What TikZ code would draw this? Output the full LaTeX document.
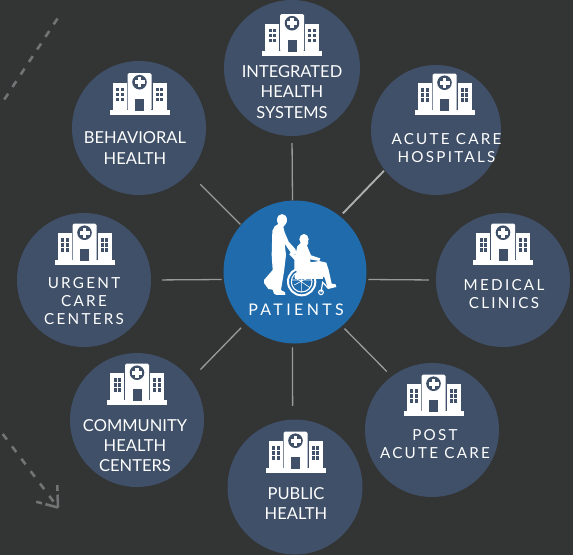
\documentclass[tikz,border=0pt]{standalone}
\usepackage{fontspec}
\setmainfont{Lato}
\definecolor{bgc}{HTML}{333434}
\definecolor{navy}{HTML}{3F5068}
\definecolor{pblue}{HTML}{1F6BAC}
\definecolor{linec}{HTML}{9A9A9A}
\definecolor{dashc}{HTML}{727374}
\newcommand{\plainlab}{\fontsize{16.5}{20.2}\selectfont}
\newcommand{\widelab}{\fontsize{15.2}{18}\selectfont\addfontfeature{LetterSpace=15}}
\tikzset{
  hub/.style={circle,fill=navy,draw=none,inner sep=0pt,minimum size=#1},
  lab/.style={text=white,align=center,font=\plainlab,inner sep=0pt},
  widelabel/.style={text=white,align=center,font=\widelab,inner sep=0pt},
  conn/.style={draw=linec,line width=1.3pt},
  dashl/.style={draw=dashc,line width=2.6pt,dash pattern=on 7pt off 8pt},
  pics/hosp/.style={code={
    \fill[white] (-30,-4.7) rectangle (30,0);
    \fill[white] (-27,-32) rectangle (-13,-4);
    \fill[white] (13,-32) rectangle (27,-4);
    \fill[white,rounded corners=1.5pt] (-12,-4) -- (-12,-41.5) -- (12,-41.5) -- (12,-4) -- cycle;
    \fill[navy] (-4.5,-4) rectangle (4.5,-15.7);
    \fill[navy] (0,-32.3) circle (7.3);
    \fill[white] (-1.8,-37.3) rectangle (1.8,-27.3);
    \fill[white] (-5,-34.1) rectangle (5,-30.5);
    \foreach \xx in {-23.5,-19,16,20.5}
      \foreach \yy in {-26.7,-21.7,-16.7}
        \fill[navy] (\xx,\yy) rectangle ++(3,3.2);
  }}
}
\begin{document}
\begin{tikzpicture}[x=1pt,y=-1pt]
\path[use as bounding box,fill=bgc] (0,0) rectangle (573,555);
% dashed free lines
\coordinate (da) at (57.5,18.5);
\coordinate (db) at (0,106);
\coordinate (dc) at (2.7,434);
\coordinate (dd) at (58,507.5);
\coordinate (de) at (57.3,485);
\coordinate (df) at (36,501.7);
\draw[dashl] (da) -- (db);
\draw[dashl,dash pattern=on 7pt off 8.5pt] (dc) -- (dd);
\draw[dashl,dash pattern=on 13pt off 3.5pt on 6pt off 9pt] (dd) -- (de);
\draw[dashl,dash pattern=on 13pt off 3.5pt on 6pt off 9pt] (dd) -- (df);
% circles
\node[hub=136pt] (top) at (292,68) {};
\node[hub=130pt] (ur) at (436,130) {};
\node[hub=134pt] (rt) at (503,280) {};
\node[hub=134pt] (lr) at (432,430) {};
\node[hub=135pt] (bt) at (295,487) {};
\node[hub=134pt] (ll) at (137,420) {};
\node[hub=134pt] (lf) at (84,280) {};
\node[hub=134pt] (ul) at (139,128) {};
\node[circle,fill=pblue,inner sep=0pt,minimum size=143pt] (pat) at (295,272) {};
% connectors
\draw[conn,shorten >=7pt] (pat.92.4) -- (top.-90);
\draw[conn,line width=1.9pt,draw=linec!80!white,shorten <=4pt,shorten >=1pt] (pat.51.8) -- (ur.218.1);
\draw[conn,shorten <=2pt,shorten >=7pt] (pat.-6.4) -- (rt.180);
\draw[conn,shorten <=3.5pt,shorten >=6.7pt] (pat.-49.5) -- (lr.127.1);
\draw[conn,shorten <=3.6pt,shorten >=13.6pt] (pat.-92.4) -- (bt.92.5);
\draw[conn,shorten <=6pt,shorten >=14pt] (pat.226.1) -- (ll.37.7);
\draw[conn,shorten <=2pt,shorten >=11pt] (pat.186.4) -- (lf.0);
\draw[conn,shorten <=0.7pt,shorten >=16pt] (pat.139.5) -- (ul.-42.6);
% icons
\path (292,55.5) pic {hosp};
\path (444.5,115) pic {hosp};
\path (503,265) pic {hosp};
\path (433.5,416) pic {hosp};
\path (295.5,473) pic {hosp};
\path (137,405) pic {hosp};
\path (84.5,265) pic {hosp};
\path (139.5,114.5) pic {hosp};
% labels
\node[lab] (t1) at (292,92) {INTEGRATED\\HEALTH\\SYSTEMS};
\node[widelabel] (t2) at (446.5,147.7) {ACUTE CARE\\HOSPITALS};
\node[widelabel] (t3) at (504,294) {MEDICAL\\CLINICS};
\node[widelabel] (t4) at (435,444.5) {POST\\ACUTE CARE};
\node[lab] (t5) at (296,503.8) {PUBLIC\\HEALTH};
\node[lab] (t6) at (135,445.5) {COMMUNITY\\HEALTH\\CENTERS};
\node[widelabel] (t7) at (84,301) {URGENT\\CARE\\CENTERS};
\node[lab] (t8) at (135,148) {BEHAVIORAL\\HEALTH};
\node[widelabel,font=\fontsize{16}{18}\selectfont\addfontfeature{LetterSpace=21}] (t9) at (296,310) {PATIENTS};
% wheelchair figure
\begin{scope}[shift={(260,205)},x=0.3333pt,y=-0.3333pt]
  \fill[white] (66,45) ellipse (15 and 18);
  \fill[white] (58,55) -- (44,64) -- (37,78) -- (35,150) -- (38,195) -- (12,225) -- (12,234) -- (25,252) -- (38,254) -- (42,266) -- (50,270) -- (76,270) -- (75,262) -- (63,255) -- (72,200) -- (78,150) -- (74,116) -- (96,148) -- (110,148) -- (106,132) -- (86,110) -- (74,82) -- (70,66) -- (76,58) -- cycle;
  \fill[white] (132,103) ellipse (14 and 16);
  \fill[white] (124,112) -- (112,124) -- (106,150) -- (92,142) -- (88,148) -- (103,164) -- (103,192) -- (118,208) -- (180,208) -- (194,218) -- (204,252) -- (229,246) -- (227,238) -- (215,236) -- (206,195) -- (199,173) -- (178,168) -- (152,172) -- (150,163) -- (178,168) -- (181,160) -- (153,151) -- (141,122) -- (146,112) -- cycle;
  \draw[white,line width=2pt] (125,230) circle (41);
  \draw[white,line width=1.1pt] (125,230) circle (31);
  \draw[white,line width=0.6pt] (96,225) -- (154,225) (103,240) -- (150,215) (125,205) -- (125,260) (102,215) -- (150,248);
  \fill[white] (105,205) rectangle (190,222);
  \draw[white,line width=1.1pt] (183,262) circle (7);
  \draw[white,line width=1.2pt] (183,262) -- (188,232) -- (205,250);
\end{scope}
\end{tikzpicture}
\end{document}
